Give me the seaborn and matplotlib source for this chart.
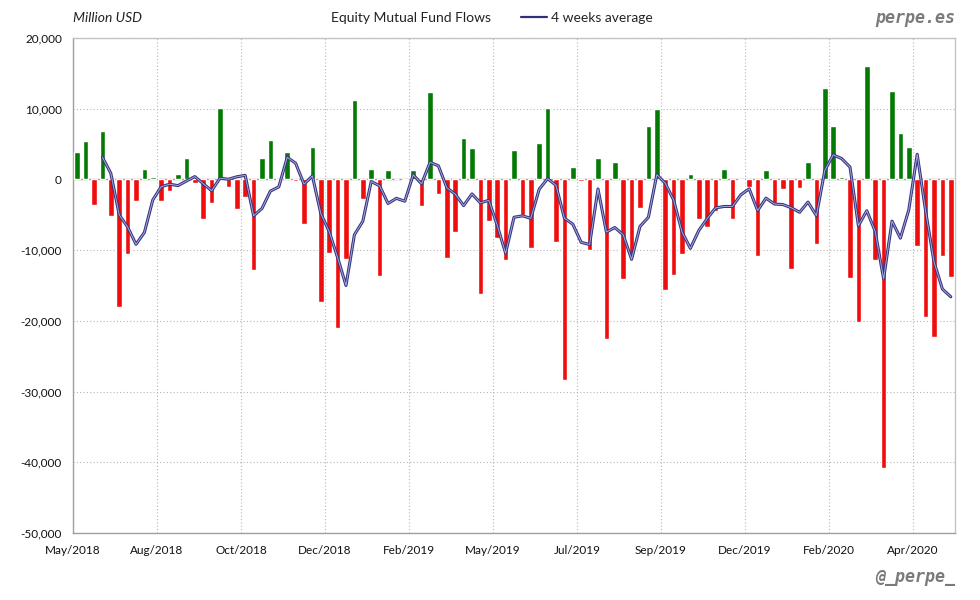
import pandas as pd
import matplotlib
matplotlib.use("Agg")
import matplotlib.pyplot as plt
import matplotlib.patheffects as pe
import seaborn as sns

# weekly equity mutual fund flows, million USD
flows = [3900, 5500, -3600, 6800, -5200, -18000, -10500, -3000, 1500, 400,
         -3000, -1600, 700, 3000, -500, -5600, -3300, 10100, -1100, -4200,
         -2500, -12800, 3100, 5600, -100, 3900, -200, -6300, 4600, -17400,
         -10400, -21000, -11200, 11300, -2800, 1500, -13600, 1300, 100, -100,
         1300, -3800, 12300, -2100, -11100, -7400, 5800, 4500, -16200, -5900,
         -8300, -11400, 4200, -5100, -9700, 5100, 10100, -8800, -28400, 1800,
         -200, -10000, 3000, -22600, 2400, -14100, -10900, -4000, 7600, 10000,
         -15700, -13500, -10500, 700, -5600, -6700, -4500, 1500, -5600, -100,
         -1100, -10800, 1400, -3400, -1400, -12600, -1200, 2400, -9100, 13000,
         7600, 300, -13900, -20200, 16100, -11400, -40800, 12500, 6500, 4600,
         -9400, -19500, -22300, -10800, -13800]
tick_labels = ["May/2018", "Aug/2018", "Oct/2018", "Dec/2018", "Feb/2019",
               "May/2019", "Jul/2019", "Sep/2019", "Dec/2019", "Feb/2020",
               "Apr/2020"]
y_ticks = [20000, 10000, 0, -10000, -20000, -30000, -40000, -50000]

df = pd.DataFrame({"flow": flows})
df["week"] = df.index
df["sign"] = ["pos" if v >= 0 else "neg" for v in flows]
df["avg"] = df["flow"].rolling(4).mean()

sns.set_style("white")
plt.rcParams["font.family"] = ["Lato", "DejaVu Sans"]

fig = plt.figure(figsize=(9.8, 6), dpi=100)
ax = fig.add_axes([73 / 980, 1 - 533 / 600, 882 / 980, 495 / 600])

sns.barplot(data=df, x="week", y="flow", hue="sign",
            palette={"pos": "#047a04", "neg": "#f00d0d"},
            dodge=False, width=0.66, saturation=1, errorbar=None,
            legend=False, ax=ax, zorder=3)

sns.lineplot(data=df, x="week", y="avg", color="#a8a8dc", lw=0.7,
             ax=ax, zorder=4, label="4 weeks average")
ln = ax.lines[-1]
ln.set_path_effects([pe.Stroke(linewidth=2.2, foreground="#34347e"), pe.Normal()])

n = len(flows)
ax.set_xlim(-0.5, n - 0.5)
ax.set_ylim(-50000, 20000)
ax.set_yticks(y_ticks)
ax.set_yticklabels([f"{v:,}" for v in y_ticks])
xt = [i * 10 - 0.5 for i in range(len(tick_labels))]
ax.set_xticks(xt)
ax.set_xticklabels(tick_labels)
ax.tick_params(axis="both", length=0, labelsize=8.5, colors="#111111")
ax.tick_params(axis="x", pad=9)
ax.tick_params(axis="y", pad=8)
ax.set_xlabel("")
ax.set_ylabel("")

ax.grid(True, axis="both", color="#b4b4b4", linestyle=(0, (1, 2)), lw=0.8, zorder=0)
ax.axhline(0, color="#9a9a9a", lw=1.0, zorder=2)
for s in ax.spines.values():
    s.set_color("#c4c4c4")
    s.set_linewidth(1.0)
ax.spines["left"].set_color("#a0a0a0")
ax.spines["bottom"].set_color("#a0a0a0")

leg = ax.legend(loc="center left", bbox_to_anchor=((521 - 73) / 882, 1 + 20 / 495),
                frameon=False, fontsize=10, handlelength=1.9, handletextpad=0.25,
                borderpad=0, borderaxespad=0)
for h in leg.get_lines():
    h.set_path_effects([])
    h.set_color("#30307a")
    h.set_linewidth(1.6)

fig.text(73 / 980, 1 - 18 / 600, "Million USD", fontsize=10, style="italic",
         va="center", ha="left", color="#222222")
fig.text(411 / 980, 1 - 18 / 600, "Equity Mutual Fund Flows", fontsize=10,
         va="center", ha="center", color="#222222")
fig.text(955 / 980, 1 - 18 / 600, "perpe.es", fontsize=12, family="DejaVu Sans Mono",
         weight="bold", style="italic", va="center", ha="right", color="#7a7a7a")
fig.text(955 / 980, 1 - 577 / 600, "@_perpe_", fontsize=12, family="DejaVu Sans Mono",
         weight="bold", style="italic", va="center", ha="right", color="#7a7a7a")

fig.savefig("out.png", dpi=100)
